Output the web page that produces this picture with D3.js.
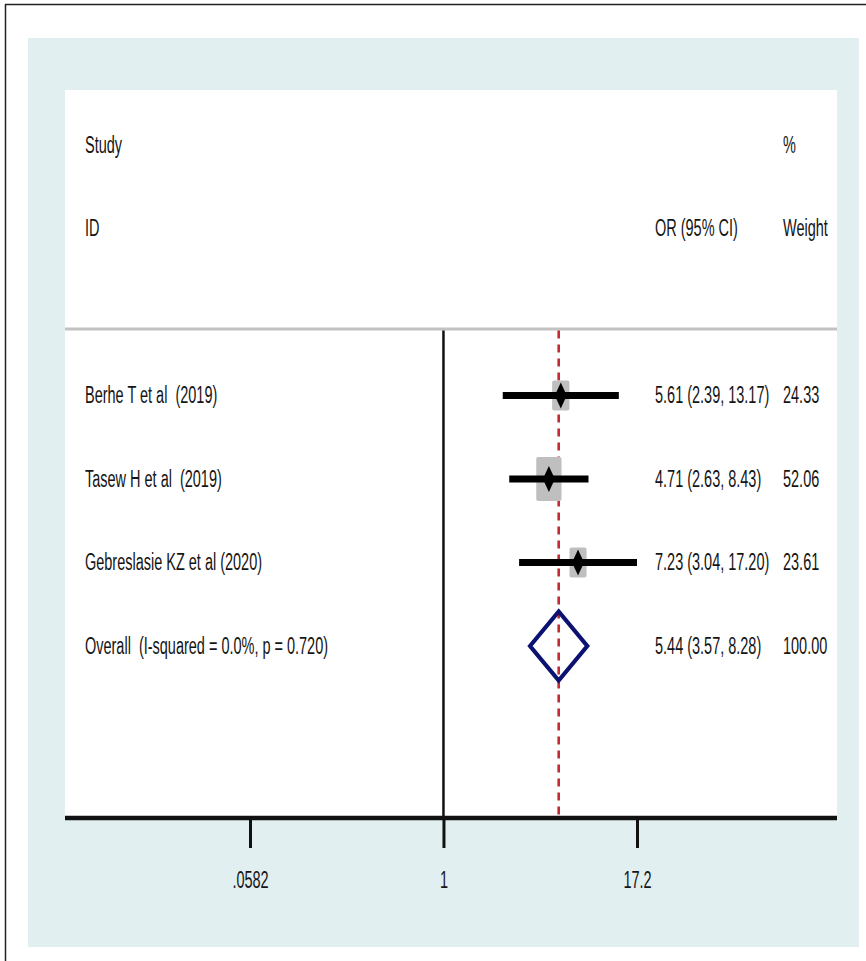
<!DOCTYPE html>
<html>
<head>
<meta charset="utf-8">
<script src="https://cdn.jsdelivr.net/npm/d3@7"></script>
<style>
  html, body { margin: 0; padding: 0; background: #ffffff; }
  svg { display: block; }
  text { font-family: "Liberation Sans", Arial, Helvetica, sans-serif; font-size: 21px; fill: #151515; white-space: pre; }
</style>
</head>
<body>
<svg id="chart" width="866" height="961"></svg>
<script>
// Study-level results (odds ratios with 95% CI and weights)
const studies   = ["Berhe T et al  (2019)", "Tasew H et al  (2019)", "Gebreslasie KZ et al (2020)"];
const oddsRatio = [5.61, 4.71, 7.23];
const ciLower   = [2.39, 2.63, 3.04];
const ciUpper   = [13.17, 8.43, 17.20];
const weights   = [24.33, 52.06, 23.61];

// Pooled estimate
const overallLabel  = "Overall  (I-squared = 0.0%, p = 0.720)";
const overallOR     = 5.44;
const overallLower  = 3.57;
const overallUpper  = 8.28;
const overallWeight = 100.00;

// Axis ticks
const tickValues = [0.0582, 1, 17.2];
const tickLabels = [".0582", "1", "17.2"];

// Column headers
const headerStudy  = ["Study", "ID"];
const headerEffect = ["", "OR (95% CI)"];
const headerWeight = ["%", "Weight"];

// ---- layout ----
const W = 866, H = 961;
const SX = 0.69, SY = 1.1;             // condensed, slightly tall type
const region = { x: 28, y: 38, w: 831, h: 909 };
const plot = { left: 65, right: 837, top: 90, bottom: 818 };
const colStudy = 85, colEffect = 655, colWeight = 783;
const sepY = 329;

const svg = d3.select("#chart");

// log-scaled effect axis
const x = d3.scaleLog().domain([0.0582, 17.2]).range([250, 637]);
// row positions: headers at -3,-2, studies 0..2, overall 3
const y = d3.scaleLinear().domain([0, 1]).range([395.5, 479]);

function label(g, px, py, str, anchor) {
  return g.append("text")
    .attr("transform", `translate(${px},${py}) scale(${SX},${SY})`)
    .attr("text-anchor", anchor || "start")
    .text(str);
}

// frame
svg.append("line").attr("x1", 5.5).attr("x2", 5.5).attr("y1", 4).attr("y2", H)
  .attr("stroke", "#222").attr("stroke-width", 1.5);
svg.append("line").attr("x1", 5).attr("x2", W).attr("y1", 4.5).attr("y2", 4.5)
  .attr("stroke", "#222").attr("stroke-width", 1.5);

// graph region + plot region
svg.append("rect").attr("x", region.x).attr("y", region.y).attr("width", region.w).attr("height", region.h)
  .attr("fill", "#e2eff0");
svg.append("rect").attr("x", plot.left).attr("y", plot.top)
  .attr("width", plot.right - plot.left).attr("height", plot.bottom - plot.top)
  .attr("fill", "#ffffff");

const g = svg.append("g");

// header separator
g.append("line").attr("x1", plot.left).attr("x2", plot.right).attr("y1", sepY).attr("y2", sepY)
  .attr("stroke", "#c2c2c2").attr("stroke-width", 3);

// null line at OR = 1
g.append("line").attr("x1", x(1)).attr("x2", x(1)).attr("y1", sepY + 1.5).attr("y2", plot.bottom)
  .attr("stroke", "#111").attr("stroke-width", 2.5);

// pooled estimate reference line
g.append("line").attr("x1", x(overallOR)).attr("x2", x(overallOR)).attr("y1", sepY + 1.5).attr("y2", plot.bottom)
  .attr("stroke", "#c42b32").attr("stroke-width", 2.6).attr("stroke-dasharray", "8,6");

// study rows
const rows = studies.map((s, i) => ({
  name: s, or: oddsRatio[i], lo: ciLower[i], hi: ciUpper[i], w: weights[i], i
}));

// weight boxes (area proportional to weight)
const boxW = d => 3.5 * Math.sqrt(d.w);
g.selectAll("rect.box").data(rows).join("rect")
  .attr("class", "box")
  .attr("x", d => x(d.or) - boxW(d) / 2)
  .attr("y", d => y(d.i) - 1.75 * boxW(d) / 2)
  .attr("width", boxW)
  .attr("height", d => 1.75 * boxW(d))
  .attr("rx", 2)
  .attr("fill", "#bfbfbf");

// confidence intervals
g.selectAll("line.ci").data(rows).join("line")
  .attr("class", "ci")
  .attr("x1", d => x(d.lo)).attr("x2", d => x(d.hi))
  .attr("y1", d => y(d.i)).attr("y2", d => y(d.i))
  .attr("stroke", "#000").attr("stroke-width", 7);

// point estimates
g.selectAll("path.pt").data(rows).join("path")
  .attr("class", "pt")
  .attr("d", d => {
    const cx = x(d.or), cy = y(d.i);
    return `M${cx - 6},${cy} L${cx},${cy - 13} L${cx + 6},${cy} L${cx},${cy + 13} Z`;
  })
  .attr("fill", "#000");

// pooled diamond
{
  const cy = y(3), hh = 34.5;
  g.append("path")
    .attr("d", `M${x(overallLower)},${cy} L${x(overallOR)},${cy - hh} L${x(overallUpper)},${cy} L${x(overallOR)},${cy + hh} Z`)
    .attr("fill", "none").attr("stroke", "#0b1272").attr("stroke-width", 4.2)
    .attr("stroke-linejoin", "miter");
}

// x axis
const axis = d3.axisBottom(x)
  .tickValues(tickValues)
  .tickFormat((d, i) => tickLabels[i])
  .tickSize(30)
  .tickSizeOuter(0);
const ax = svg.append("g").attr("transform", `translate(0,${plot.bottom})`).call(axis);
ax.select(".domain").remove();
ax.selectAll(".tick line").attr("stroke", "#111").attr("stroke-width", 3);
ax.selectAll(".tick text")
  .attr("y", null).attr("dy", null)
  .attr("transform", `translate(0,70) scale(${SX},${SY})`)
  .attr("fill", "#151515")
  .style("font-family", "\"Liberation Sans\", Arial, Helvetica, sans-serif")
  .style("font-size", "21px");
svg.append("line").attr("x1", plot.left).attr("x2", plot.right)
  .attr("y1", plot.bottom).attr("y2", plot.bottom)
  .attr("stroke", "#111").attr("stroke-width", 4.5);

// headers
headerStudy.forEach((t, k) => label(g, colStudy, y(k - 3) + 7.5, t));
headerEffect.forEach((t, k) => { if (t) label(g, colEffect, y(k - 3) + 7.5, t); });
headerWeight.forEach((t, k) => label(g, colWeight, y(k - 3) + 7.5, t));

// row text
const fmt = d3.format(".2f");
rows.forEach(d => {
  label(g, colStudy, y(d.i) + 7.5, d.name);
  label(g, colEffect, y(d.i) + 7.5, `${fmt(d.or)} (${fmt(d.lo)}, ${fmt(d.hi)})`);
  label(g, colWeight, y(d.i) + 7.5, fmt(d.w));
});
label(g, colStudy, y(3) + 7.5, overallLabel);
label(g, colEffect, y(3) + 7.5, `${fmt(overallOR)} (${fmt(overallLower)}, ${fmt(overallUpper)})`);
label(g, colWeight, y(3) + 7.5, fmt(overallWeight));
</script>
</body>
</html>
